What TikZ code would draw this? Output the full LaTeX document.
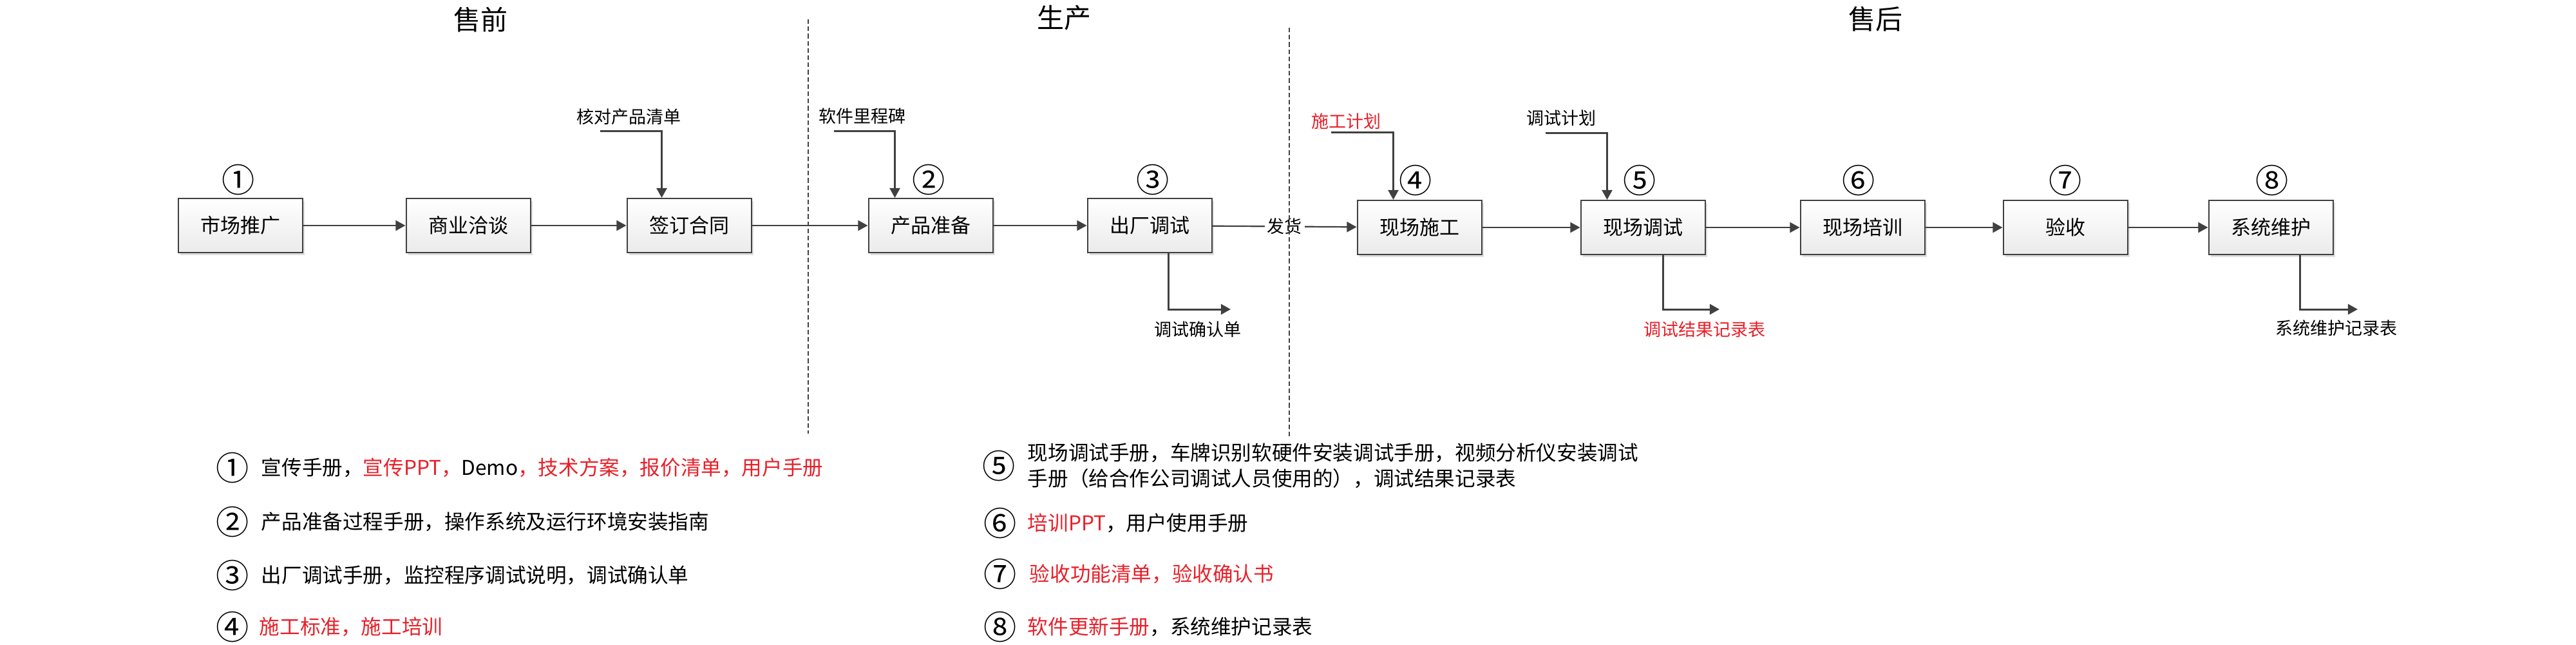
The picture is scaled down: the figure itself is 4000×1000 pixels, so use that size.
\documentclass[tikz,border=0pt]{standalone}
\usepackage{fontspec}
\setmainfont{Noto Sans CJK SC}
\usetikzlibrary{arrows.meta,calc,shadows}
\definecolor{lc}{HTML}{404040}
\definecolor{rd}{HTML}{E8202A}
\tikzset{
 proc/.style={draw=lc, line width=0.5pt, minimum width=48.25pt, minimum height=21pt,
   top color=white, bottom color=black!8,
   drop shadow={shadow xshift=0.9pt, shadow yshift=-0.9pt, fill=black!25, opacity=0.5},
   font=\fontsize{7.75pt}{9pt}\selectfont, inner sep=0pt},
 conn/.style={draw=lc, line width=0.55pt, -{Triangle[length=3.8pt,width=4pt]}},
 feed/.style={draw=lc, line width=0.75pt, -{Triangle[length=3.8pt,width=4pt]}},
 phase/.style={font=\fontsize{10.5pt}{12pt}\selectfont, inner sep=0pt},
 num/.style={font=\fontsize{12.8pt}{14pt}\selectfont, inner sep=0pt},
 lbl/.style={font=\fontsize{6.75pt}{8pt}\selectfont, inner sep=0pt},
 item/.style={font=\fontsize{7.9pt}{10pt}\selectfont, anchor=west, inner sep=0pt},
 divider/.style={draw=lc, line width=0.3pt, dash pattern=on 1.8pt off 1pt},
}
\begin{document}
\begin{tikzpicture}[x=0.25pt,y=-0.25pt]
\useasboundingbox (0,0) rectangle (4000,1000);
% phases
\node[phase] (p1) at (746,30) {售前};
\node[phase] (p2) at (1652,28) {生产};
\node[phase] (p3) at (2912,30) {售后};
% process boxes
\node[proc] (b1) at (373,350) {市场推广};
\node[proc] (b2) at (727,350) {商业洽谈};
\node[proc] (b3) at (1070,350) {签订合同};
\node[proc] (b4) at (1445,350) {产品准备};
\node[proc] (b5) at (1785,350) {出厂调试};
\node[proc] (b6) at (2204,353) {现场施工};
\node[proc] (b7) at (2551,353) {现场调试};
\node[proc] (b8) at (2892,353) {现场培训};
\node[proc] (b9) at (3207,353) {验收};
\node[proc] (b10) at (3526,353) {系统维护};
% numbers
\node[num] (n1) at (370,279) {①};
\node[num] (n2) at (1442,279) {②};
\node[num] (n3) at (1790,279) {③};
\node[num] (n4) at (2198,280) {④};
\node[num] (n5) at (2546,280) {⑤};
\node[num] (n6) at (2886,280) {⑥};
\node[num] (n7) at (3207,280) {⑦};
\node[num] (n8) at (3528,280) {⑧};
% main flow
\draw[conn] (b1) -- (b2);
\draw[conn] (b2) -- (b3);
\draw[conn] (b3) -- (b4);
\draw[conn] (b4) -- (b5);
\draw[conn] (b5) -- node[lbl, fill=white, inner sep=1pt] (fh) {发货} (b6);
\draw[conn] (b6) -- (b7);
\draw[conn] (b7) -- (b8);
\draw[conn] (b8) -- (b9);
\draw[conn] (b9) -- (b10);
% inputs
\node[lbl] (t1) at (976,181) {核对产品清单};
\coordinate (s1) at (932,203);
\draw[feed] (s1) -| ($(b3.north west)+(55,0)$);
\node[lbl] (t2) at (1339,180) {软件里程碑};
\coordinate (s2) at (1295,203);
\draw[feed] (s2) -| ($(b4.north west)+(42,0)$);
\node[lbl,text=rd] (t3) at (2090,188) {施工计划};
\coordinate (s3) at (2067,205);
\draw[feed] (s3) -| ($(b6.north west)+(57,0)$);
\node[lbl] (t4) at (2424,183) {调试计划};
\coordinate (s4) at (2400,206);
\draw[feed] (s4) -| ($(b7.north west)+(42,0)$);
% outputs
\node[lbl] (o1) at (1860,511) {调试确认单};
\coordinate (e1) at (1911,480);
\draw[feed] ($(b5.south west)+(127,0)$) |- (e1);
\node[lbl,text=rd] (o2) at (2647,511) {调试结果记录表};
\coordinate (e2) at (2670,480);
\draw[feed] ($(b7.south west)+(129,0)$) |- (e2);
\node[lbl] (o3) at (3628,509) {系统维护记录表};
\coordinate (e3) at (3661,480);
\draw[feed] ($(b10.south west)+(143,0)$) |- (e3);
% dividers
\coordinate (d1a) at (1255,30);
\coordinate (d1b) at (1255,673);
\draw[divider] (d1a) -- (d1b);
\coordinate (d2a) at (2002,43);
\coordinate (d2b) at (2002,680);
\draw[divider] (d2a) -- (d2b);
% legend
\node[num] (c1) at (361,726) {①};
\node[item] (l1) at (405,726) {宣传手册，\textcolor{rd}{宣传PPT，}Demo\textcolor{rd}{，技术方案，报价清单，用户手册}};
\node[num] (c2) at (361,810) {②};
\node[item] (l2) at (405,810) {产品准备过程手册，操作系统及运行环境安装指南};
\node[num] (c3) at (361,893) {③};
\node[item] (l3) at (405,893) {出厂调试手册，监控程序调试说明，调试确认单};
\node[num] (c4) at (361,973) {④};
\node[item,text=rd] (l4) at (402,973) {施工标准，施工培训};
\node[num] (c5) at (1551,723) {⑤};
\node[item] (l5a) at (1595,703) {现场调试手册，车牌识别软硬件安装调试手册，视频分析仪安装调试};
\node[item] (l5b) at (1595,743) {手册（给合作公司调试人员使用的），调试结果记录表};
\node[num] (c6) at (1553,812) {⑥};
\node[item] (l6) at (1595,812) {\textcolor{rd}{培训PPT}，用户使用手册};
\node[num] (c7) at (1553,891) {⑦};
\node[item,text=rd] (l7) at (1598,891) {验收功能清单，验收确认书};
\node[num] (c8) at (1553,973) {⑧};
\node[item] (l8) at (1595,973) {\textcolor{rd}{软件更新手册}，系统维护记录表};
\end{tikzpicture}
\end{document}
